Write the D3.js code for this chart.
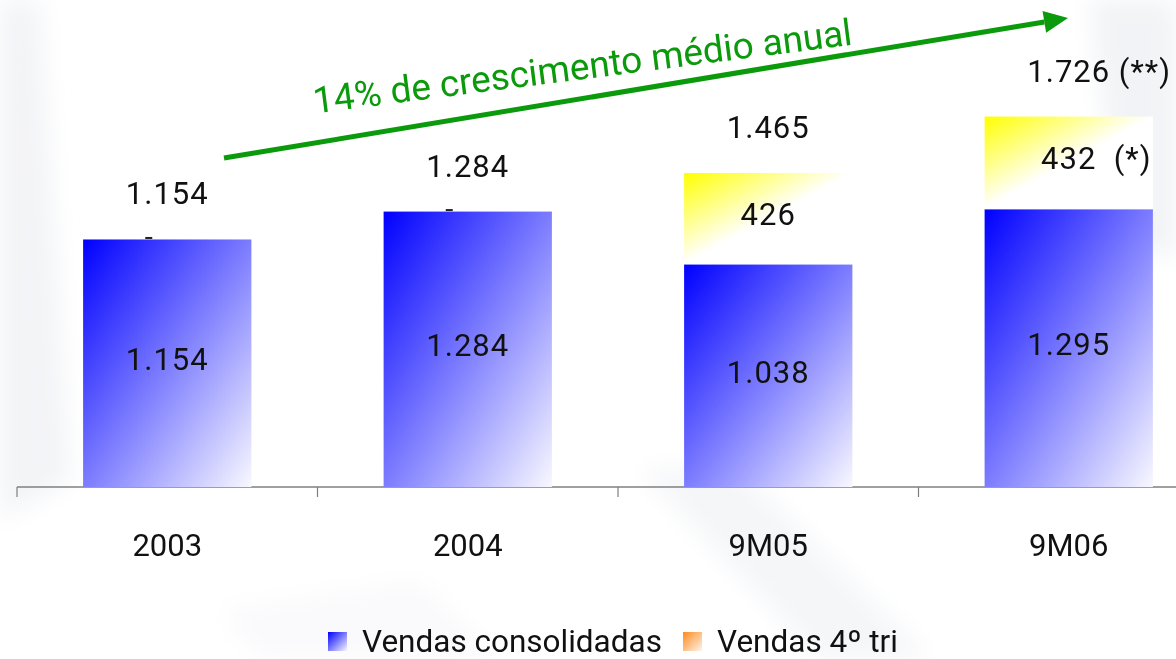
<!DOCTYPE html>
<html>
<head>
<meta charset="utf-8">
<script src="https://cdn.jsdelivr.net/npm/d3@7"></script>
<style>
  body { margin: 0; background: #fff; }
  svg { display: block; }
</style>
</head>
<body>
<div id="chart"></div>
<script>
var categories = ["2003", "2004", "9M05", "9M06"];
var consolidadas = [1154, 1284, 1038, 1295];
var quartoTri = [0, 0, 426, 432];
var totais = [1154, 1284, 1465, 1726];
var sufixoTotal = ["", "", "", " (**)"];
var sufixoTri = ["", "", "", "  (*)"];
var legendLabels = ["Vendas consolidadas", "Vendas 4º tri"];
var titulo = "14% de crescimento médio anual";

var W = 1176, H = 659;
var font = "Roboto, 'Liberation Sans', sans-serif";

var svg = d3.select("#chart")
  .append("svg")
    .attr("width", W)
    .attr("height", H);

var defs = svg.append("defs");

function diagGrad(id, stops) {
  var g = defs.append("linearGradient")
    .attr("id", id)
    .attr("x1", 0).attr("y1", 0)
    .attr("x2", 1).attr("y2", 1);
  stops.forEach(function (s) {
    g.append("stop").attr("offset", s[0]).attr("stop-color", s[1]);
  });
}
diagGrad("gBlue", [[0, "#0000ff"], [1, "#f8f8ff"]]);
diagGrad("gYellow", [[0, "#ffff00"], [0.5, "#ffffff"], [1, "#ffffff"]]);
diagGrad("gOrange", [[0, "#ff8a1c"], [1, "#fff4ea"]]);

defs.append("filter").attr("id", "blur")
  .append("feGaussianBlur").attr("stdDeviation", 12);

// faint watermark in the background
var wm = svg.append("g").attr("filter", "url(#blur)").attr("fill", "#eef0f4");
wm.append("path").attr("d", "M0,0 L40,0 L70,480 L0,520 Z").attr("opacity", 0.7);
wm.append("path").attr("d", "M640,470 L740,470 L930,659 L820,659 Z").attr("opacity", 0.6);
wm.append("path").attr("d", "M1090,0 L1176,0 L1176,260 L1120,240 Z").attr("opacity", 0.8);
wm.append("path").attr("d", "M220,610 L420,580 L500,659 L260,659 Z").attr("opacity", 0.3);

var baseY = 487;

var x = d3.scaleBand()
  .domain(categories)
  .range([17, 1219])
  .paddingInner(0.44)
  .paddingOuter(0.22);

var y = d3.scaleLinear()
  .domain([0, 2000])
  .range([baseY, 58]);

// eixo
var axis = svg.append("g")
  .attr("transform", "translate(0," + baseY + ")");
axis.append("line")
  .attr("x1", 17).attr("x2", W)
  .attr("stroke", "#7f7f7f").attr("stroke-width", 1.5);
var bounds = categories.map(function (c) { return x(c) - x.step() * x.paddingInner() / 2; });
axis.selectAll(".tk").data(bounds).enter().append("line")
  .attr("x1", function (d) { return d; })
  .attr("x2", function (d) { return d; })
  .attr("y1", 0).attr("y2", 10)
  .attr("stroke", "#7f7f7f").attr("stroke-width", 1.2);
axis.selectAll(".lb").data(categories).enter().append("text")
  .attr("x", function (d) { return x(d) + x.bandwidth() / 2; })
  .attr("y", 69)
  .attr("text-anchor", "middle")
  .style("font-family", font)
  .style("font-size", "31px")
  .attr("fill", "#111")
  .text(function (d) { return d; });

// barras
categories.forEach(function (c, i) {
  var cx = x(c) + x.bandwidth() / 2;
  var topBlue = y(consolidadas[i]);
  var topAll = y(consolidadas[i] + quartoTri[i]);

  svg.append("rect")
    .attr("x", x(c)).attr("y", topBlue)
    .attr("width", x.bandwidth())
    .attr("height", baseY - topBlue)
    .attr("fill", "url(#gBlue)");

  if (quartoTri[i] > 0) {
    svg.append("rect")
      .attr("x", x(c)).attr("y", topAll)
      .attr("width", x.bandwidth())
      .attr("height", topBlue - topAll)
      .attr("fill", "url(#gYellow)");
    addLabel(fmt(quartoTri[i]), sufixoTri[i], cx, (topAll + topBlue) / 2 + 6);
  } else {
    // rótulo zero do 4º tri
    svg.append("rect")
      .attr("x", cx - 22).attr("y", topBlue - 2.5)
      .attr("width", 7).attr("height", 2)
      .attr("fill", "#222");
  }

  addLabel(fmt(consolidadas[i]), "", cx, (topBlue + baseY) / 2 + 7);
  addLabel(fmt(totais[i]), sufixoTotal[i], cx, topAll - 35);
});

function fmt(v) { return d3.format(",")(v).replace(/,/g, "."); }

function addLabel(num, suffix, cx, yy) {
  var t = svg.append("text")
    .attr("y", yy)
    .style("font-family", font)
    .style("font-size", "31px")
    .style("letter-spacing", "1px")
    .style("white-space", "pre")
    .attr("fill", "#111")
    .text(num);
  var w = t.node().getComputedTextLength();
  t.attr("x", cx - w / 2);
  if (suffix) t.text(num + suffix);
}

// seta verde
var green = "#0b9a0b";
var a0 = [224, 158], a1 = [1068, 18];
var ang = Math.atan2(a1[1] - a0[1], a1[0] - a0[0]);
var headL = 24, headW = 11;
var bx = a1[0] - headL * Math.cos(ang), by = a1[1] - headL * Math.sin(ang);
svg.append("line")
  .attr("x1", a0[0]).attr("y1", a0[1])
  .attr("x2", bx).attr("y2", by)
  .attr("stroke", green).attr("stroke-width", 5);
svg.append("path")
  .attr("d", "M" + a1[0] + "," + a1[1] +
    "L" + (bx + headW * Math.sin(ang)) + "," + (by - headW * Math.cos(ang)) +
    "L" + (bx - headW * Math.sin(ang)) + "," + (by + headW * Math.cos(ang)) + "Z")
  .attr("fill", green);

svg.append("text")
  .attr("transform", "translate(584,79) rotate(-7.3)")
  .attr("text-anchor", "middle")
  .style("font-family", font)
  .style("font-size", "37px")
  .attr("fill", green)
  .text(titulo);

// legenda
var leg = svg.append("g");
var legX = [328, 683];
legendLabels.forEach(function (l, i) {
  leg.append("rect")
    .attr("x", legX[i]).attr("y", 632)
    .attr("width", 19).attr("height", 19)
    .attr("fill", i == 0 ? "url(#gBlue)" : "url(#gOrange)");
  leg.append("text")
    .attr("x", legX[i] + 34).attr("y", 652)
    .style("font-family", font)
    .style("font-size", "31.5px")
    .attr("fill", "#111")
    .text(l);
});
</script>
</body>
</html>
